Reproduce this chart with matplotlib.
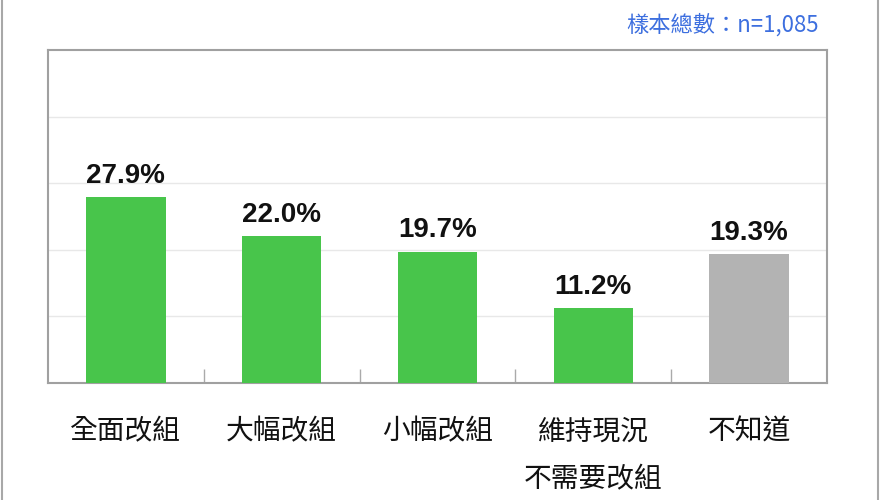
import matplotlib
matplotlib.use("Agg")
import matplotlib.pyplot as plt
from matplotlib.lines import Line2D

plt.rcParams['font.family'] = ['Liberation Sans', 'Noto Sans CJK TC', 'DejaVu Sans']

categories = ["全面改組", "大幅改組", "小幅改組", "維持現況\n不需要改組", "不知道"]
values = [27.9, 22.0, 19.7, 11.2, 19.3]
colors = ["#48C54B", "#48C54B", "#48C54B", "#48C54B", "#B3B3B3"]
note = "樣本總數：n=1,085"

W, H = 880, 500
fig = plt.figure(figsize=(W / 100, H / 100), dpi=100)
ax = fig.add_axes([48 / W, 1 - 383 / H, (827 - 48) / W, (383 - 50) / H])

x = list(range(len(categories)))
ax.bar(x, values, width=0.51, color=colors, zorder=3)
ax.set_xlim(-0.5, len(categories) - 0.5)
ax.set_ylim(0, 50)
ax.set_yticks([10, 20, 30, 40])
ax.yaxis.grid(True, color="#E8E8E8", linewidth=1, zorder=0)
ax.tick_params(axis='y', left=False, labelleft=False)
ax.set_xticks(x)
ax.set_xticklabels([])
ax.tick_params(axis='x', bottom=False)
ax.set_xticks([i + 0.5 for i in range(len(categories) - 1)], minor=True)
ax.tick_params(axis='x', which='minor', direction='in', length=10, color='#AAAAAA', width=1)
for s in ax.spines.values():
    s.set_color('#A0A0A0')
    s.set_linewidth(1.5)

for xi, v in zip(x, values):
    ax.annotate(f"{v:.1f}%", (xi, v), xytext=(0, 6), textcoords='offset points',
                ha='center', va='bottom', fontsize=20, fontweight='bold', color='#111111',
                family=['Liberation Sans', 'DejaVu Sans'])

for xi, c in zip(x, categories):
    ax.annotate(c, (xi, 0), xytext=(0, -24), textcoords='offset points',
                ha='center', va='top', fontsize=20, color='#111111',
                linespacing=1.78, family=['Noto Sans CJK TC', 'DejaVu Sans'])

fig.text(819 / W, 1 - 25 / H, note, ha='right', va='center', fontsize=16,
         color='#3D6FDF', family=['Noto Sans CJK TC', 'DejaVu Sans'])

fig.add_artist(Line2D([2 / W, 2 / W], [0, 1], color='#A8A8A8', linewidth=1.5, transform=fig.transFigure))
fig.add_artist(Line2D([878 / W, 878 / W], [0, 1], color='#A8A8A8', linewidth=1.5, transform=fig.transFigure))

fig.savefig("out.png", dpi=100, facecolor='white')
